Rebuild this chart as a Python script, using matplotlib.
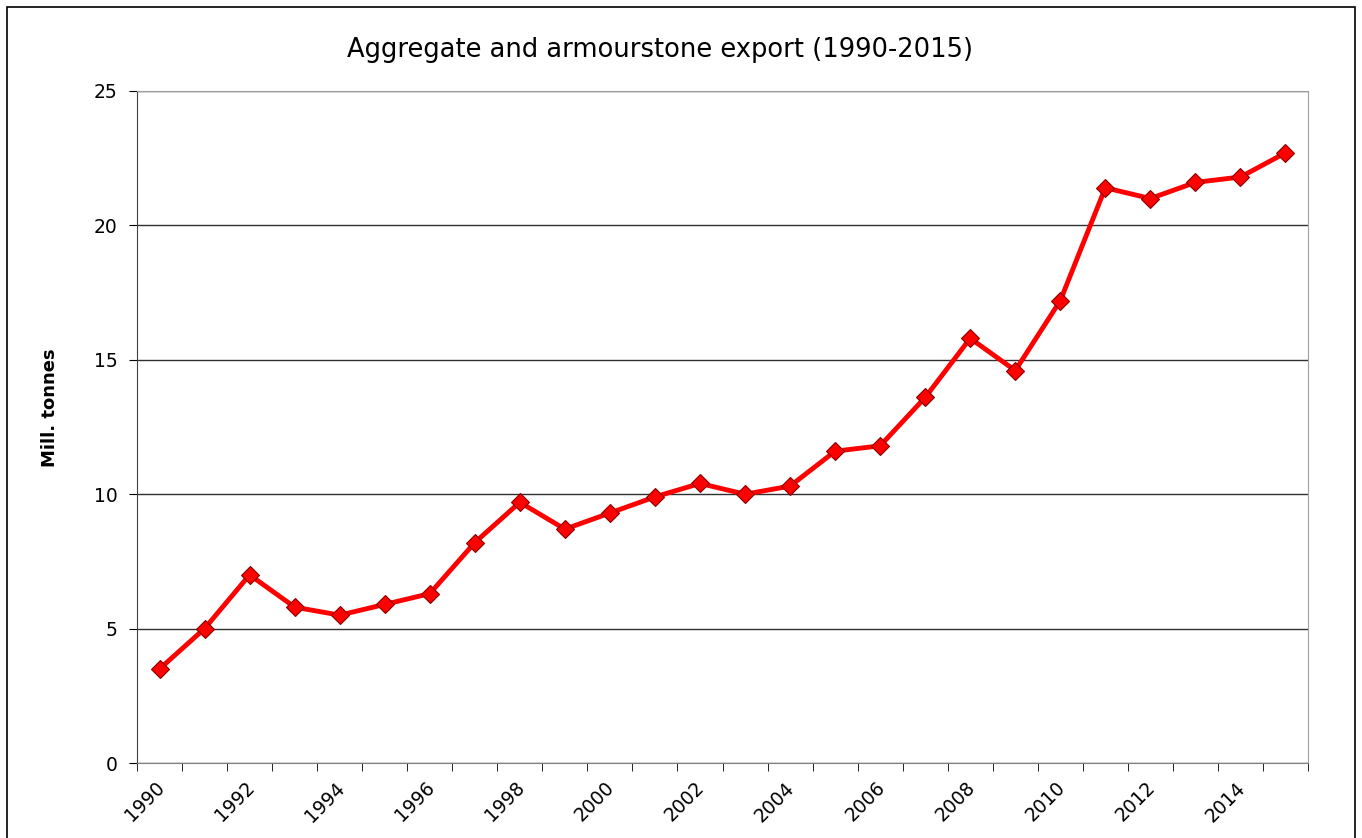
import matplotlib.pyplot as plt
from matplotlib.patches import Rectangle
from matplotlib.transforms import ScaledTranslation

# export data, million tonnes
years = list(range(1990, 2016))
export = [3.5, 5.0, 7.0, 5.8, 5.5, 5.9, 6.3, 8.2, 9.7, 8.7,
          9.3, 9.9, 10.4, 10.0, 10.3, 11.6, 11.8, 13.6, 15.8, 14.6,
          17.2, 21.4, 21.0, 21.6, 21.8, 22.7]
y_ticks = [0, 5, 10, 15, 20, 25]

plt.rcParams['font.family'] = 'DejaVu Sans'

fig = plt.figure(figsize=(13.62, 8.38), dpi=100)
ax = fig.add_axes([137 / 1362, 75 / 838, 1171 / 1362, 672 / 838])

x = list(range(len(years)))
ax.plot(x, export, color='#FF0000', lw=3.5, marker='D', ms=9,
        mfc='#FF0000', mec='#880000', mew=0.8, zorder=3)

ax.set_xlim(-0.5, len(years) - 0.5)
ax.set_ylim(0, 25)
ax.set_yticks(y_ticks)
ax.yaxis.grid(True, color='#303030', lw=1)
ax.set_axisbelow(True)

# category axis: tick marks at boundaries, labels every second year
ax.set_xticks([i - 0.5 for i in range(len(years) + 1)], minor=True)
ax.set_xticks(x[::2])
ax.set_xticklabels([str(y) for y in years[::2]], rotation=45,
                   ha='right', va='top', rotation_mode='anchor')
ax.tick_params(axis='x', which='major', length=0, pad=11, labelsize=13.5)
ax.tick_params(axis='x', which='minor', length=6, color='black', direction='out')
ax.tick_params(axis='y', length=6, color='black', labelsize=13.5, pad=8)
shift = ScaledTranslation(-5 / 100, 0, fig.dpi_scale_trans)
for lbl in ax.get_xticklabels():
    lbl.set_transform(lbl.get_transform() + shift)

ax.spines['top'].set_color('#A0A0A0')
ax.spines['right'].set_color('#A0A0A0')
ax.spines['bottom'].set_color('#808080')
ax.spines['left'].set_color('#404040')

ax.set_ylabel('Mill. tonnes', fontsize=13, fontweight='bold')
ax.yaxis.set_label_coords(-78 / 1171, 355 / 672)

fig.text(660 / 1362, 1 - 50 / 838, 'Aggregate and armourstone export (1990-2015)',
         ha='center', va='center', fontsize=18.5)

# outer chart border
fig.patches.append(Rectangle((7 / 1362, -0.01), 1348 / 1362, 1 - 7 / 838 + 0.01,
                             transform=fig.transFigure, fill=False,
                             edgecolor='black', lw=1.2))

fig.savefig('out.png', dpi=100)
